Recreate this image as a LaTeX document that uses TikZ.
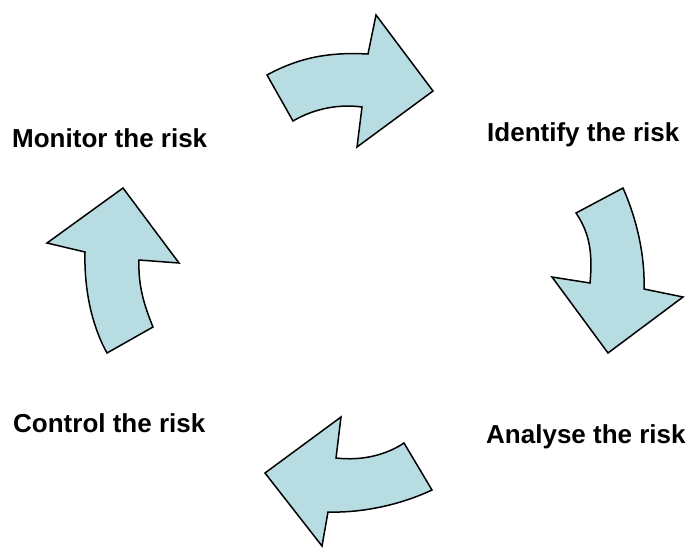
\documentclass[tikz,border=0pt]{standalone}
\usepackage{fontspec}
\setmainfont{Liberation Sans}
\usetikzlibrary{positioning}
\definecolor{cyclefill}{RGB}{183,221,227}

\begin{document}
\begin{tikzpicture}[
    x=1pt, y=-1pt,
    curvedarrow/.style={draw=black, line width=1.5pt, line join=miter, fill=cyclefill},
    phase/.style={font=\fontsize{26}{30}\selectfont\bfseries, inner sep=0pt, anchor=base west}
]

% Canvas
\useasboundingbox (0,0) rectangle (690,547);

% Phase labels
\node[phase] (identify) at (487,141) {Identify the risk};
\node[phase] (analyse) at (486,443) {Analyse the risk};
\node[phase] (control) at (13,432) {Control the risk};
\node[phase] (monitor) at (12,147) {Monitor the risk};

% Top arrow: monitor -> identify
\draw[curvedarrow] (267,75) .. controls (300,57) and (330,52) .. (368,54) -- (376,15) -- (433,91)
    -- (357,147) -- (362,107) .. controls (340,104) and (315,108) .. (293,121) -- cycle;

% Right arrow: identify -> analyse
\draw[curvedarrow] (576,213) -- (623,188) .. controls (638,222) and (645,258) .. (644,289) -- (683,297)
    -- (608,353) -- (552,277) -- (590,283) .. controls (593,252) and (589,232) .. (576,213) -- cycle;

% Bottom arrow: analyse -> control
\draw[curvedarrow] (404,443) -- (432,490) .. controls (400,505) and (362,513) .. (328,512) -- (322,546)
    -- (265,473) -- (341,417) -- (336,458) .. controls (362,461) and (386,455) .. (404,443) -- cycle;

% Left arrow: control -> monitor
\draw[curvedarrow] (107,353) -- (153,327) .. controls (144,305) and (138,285) .. (139,260) -- (179,263)
    -- (123,188) -- (47,243) -- (85,252) .. controls (84,290) and (92,326) .. (107,353) -- cycle;

\end{tikzpicture}
\end{document}
